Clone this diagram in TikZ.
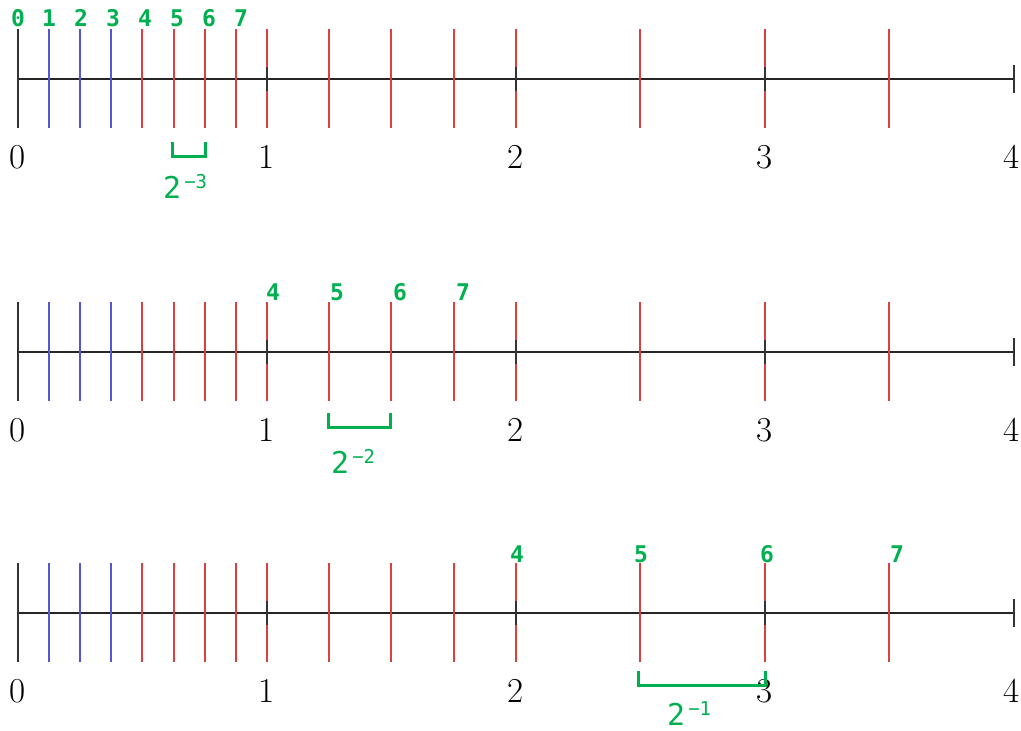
\documentclass[tikz,border=0pt]{standalone}
\usepackage{fontspec}
\newfontfamily\idxfont{DejaVu Sans Mono}
\definecolor{grn}{RGB}{0,176,80}
\definecolor{tblue}{RGB}{85,85,215}
\definecolor{tred}{RGB}{218,64,64}
\tikzset{
  axisline/.style={black!85, line width=1.8pt},
  blacktick/.style={black!80, line width=2pt},
  bluetick/.style={tblue, line width=2pt},
  redtick/.style={tred, line width=2pt},
  numlabel/.style={anchor=base, inner sep=0pt, font=\fontsize{35}{35}\selectfont},
  idxlabel/.style={anchor=base, inner sep=0pt, text=grn, font=\idxfont\bfseries\fontsize{23}{23}\selectfont},
  bracketline/.style={grn, line width=3pt},
  expolabel/.style={anchor=base west, inner sep=0pt, text=grn, font=\idxfont\fontsize{30}{30}\selectfont}
}
\newcommand{\expo}[1]{2\hspace{3pt}\raisebox{10pt}{\fontsize{19}{19}\selectfont −#1}}
\begin{document}
\begin{tikzpicture}[x=1pt,y=-1pt]
\useasboundingbox (0,0) rectangle (1021,731);
\foreach \y [count=\r] in {79,352,613} {
  % axis
  \draw[axisline] (18,\y) -- (1014,\y);
  \draw[blacktick] (18,{\y-50}) -- (18,{\y+49});
  \draw[blacktick] (1014,{\y-14}) -- (1014,{\y+14});
  % blue ticks
  \foreach \x in {49,80,111}
    \draw[bluetick] (\x,{\y-50}) -- (\x,{\y+49});
  % red ticks
  \foreach \x in {142,174,205,236,267,329,391,454,516,640,765,889}
    \draw[redtick] (\x,{\y-50}) -- (\x,{\y+49});
  % black marks at integers
  \foreach \x in {267,516,765}
    \draw[blacktick] (\x,{\y-12}) -- (\x,{\y+12});
  % numbers
  \foreach \x/\t in {18/0,267/1,516/2,765/3,1012/4}
    \node[numlabel] (n\r\t) at (\x,{\y+89}) {\t};
}
% index labels row 1
\foreach \x/\t in {18/0,49/1,81/2,113/3,145/4,177/5,209/6,241/7}
  \node[idxlabel] (a\t) at (\x,26) {\t};
% row 2
\foreach \x/\t in {273/4,337/5,400/6,463/7}
  \node[idxlabel] (b\t) at (\x,300) {\t};
% row 3
\foreach \x/\t in {517/4,641/5,767/6,897/7}
  \node[idxlabel] (c\t) at (\x,562) {\t};
% brackets
\draw[bracketline] (172,142) -- (172,156.5) -- (205,156.5) -- (205,142);
\draw[bracketline] (328,413) -- (328,427.5) -- (390,427.5) -- (390,413);
\draw[bracketline] (638,671) -- (638,685.5) -- (765,685.5) -- (765,671);
% exponent labels
\node[expolabel] (e3) at (163,198) {\expo{3}};
\node[expolabel] (e2) at (331,473) {\expo{2}};
\node[expolabel] (e1) at (667,725) {\expo{1}};
\end{tikzpicture}
\end{document}
